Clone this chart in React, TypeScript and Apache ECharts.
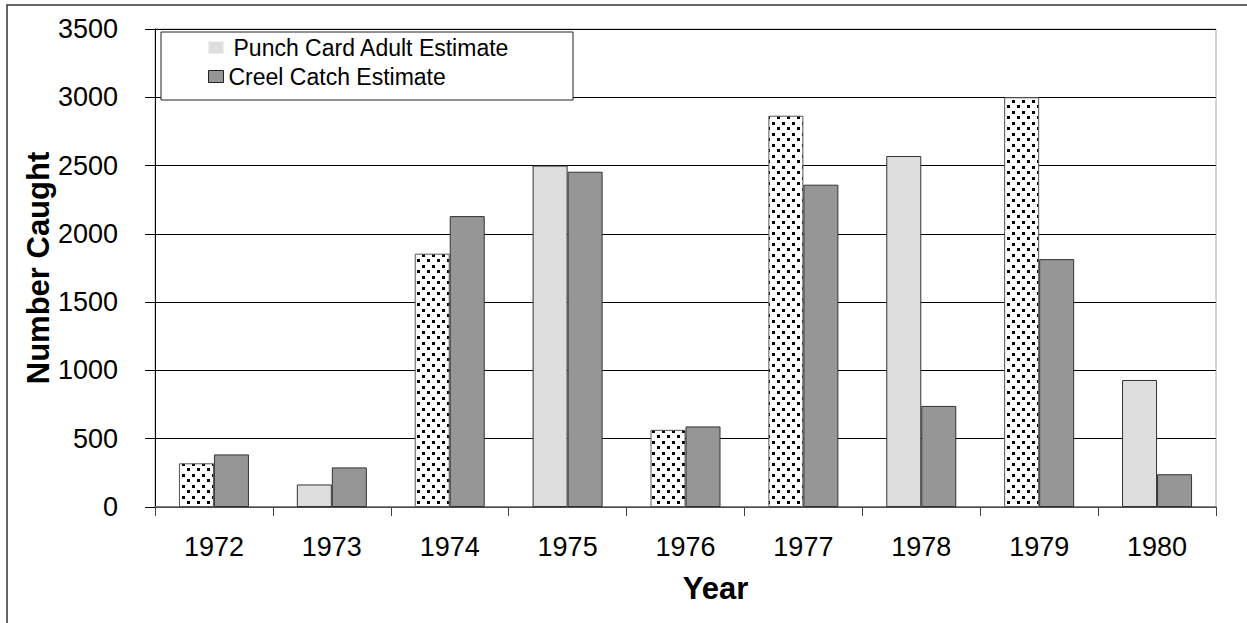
import React, { useEffect, useRef } from "react";
import * as echarts from "echarts";

const years = ["1972", "1973", "1974", "1975", "1976", "1977", "1978", "1979", "1980"];
const punchCard = [320, 165, 1855, 2500, 565, 2865, 2570, 3000, 930];
const creel = [385, 290, 2130, 2455, 590, 2360, 740, 1815, 240];
const dottedYears = ["1972", "1974", "1976", "1977", "1979"];
const yTicks = { min: 0, max: 3500, interval: 500 };
const seriesNames = ["Punch Card Adult Estimate", "Creel Catch Estimate"];
const yTitle = "Number Caught";
const xTitle = "Year";

const FONT = "'Liberation Sans', Arial, sans-serif";

function makeDots(): HTMLCanvasElement {
  const c = document.createElement("canvas");
  c.width = 10;
  c.height = 11;
  const ctx = c.getContext("2d")!;
  ctx.fillStyle = "#fff";
  ctx.fillRect(0, 0, 10, 11);
  ctx.fillStyle = "#000";
  ctx.fillRect(2, 1, 3, 3);
  ctx.fillRect(7, 6, 3, 3);
  return c;
}

export default function App() {
  const ref = useRef<HTMLDivElement>(null);
  useEffect(() => {
    if (!ref.current) return;
    const chart = echarts.init(ref.current, undefined, { renderer: "svg" });
    const dots = makeDots();
    const punchData = punchCard.map((v, i) =>
      dottedYears.includes(years[i])
        ? {
            value: v,
            itemStyle: { color: { image: dots, repeat: "repeat" }, borderColor: "#555" },
          }
        : { value: v }
    );
    chart.setOption({
      animation: false,
      backgroundColor: "#fff",
      textStyle: { fontFamily: FONT },
      grid: {
        left: 155,
        top: 29,
        right: 31,
        bottom: 116,
        show: true,
        borderColor: "#aaa",
        borderWidth: 1,
        backgroundColor: "transparent",
      },
      legend: {
        orient: "vertical",
        left: 203,
        top: 31,
        z: 20,
        itemWidth: 15,
        itemHeight: 12,
        itemGap: 6,
        icon: "rect",
        textStyle: { fontSize: 23, color: "#000", fontFamily: FONT },
        data: [
          {
            name: seriesNames[0],
            itemStyle: { color: "#dedede", borderWidth: 0 },
            textStyle: { fontSize: 23, color: "#000", fontFamily: FONT, padding: [0, 0, 0, 5] },
          },
          {
            name: seriesNames[1],
            itemStyle: { color: "#969696", borderColor: "#222", borderWidth: 1 },
            textStyle: { fontSize: 23, color: "#000", fontFamily: FONT, padding: [0, 0, 0, 0] },
          },
        ],
      },
      graphic: [
        {
          type: "rect",
          z: 10,
          shape: { x: 161, y: 32, width: 412, height: 68 },
          style: { fill: "#fff", stroke: "#222", lineWidth: 1 },
        },
        {
          type: "rect",
          z: 10,
          shape: { x: 7, y: 5, width: 1400, height: 800 },
          style: { fill: "none", stroke: "#333", lineWidth: 1.5 },
        },
        {
          type: "text",
          z: 10,
          x: 38,
          y: 268,
          rotation: Math.PI / 2,
          style: {
            text: yTitle,
            fontSize: 31,
            fontWeight: "bold",
            fontFamily: FONT,
            fill: "#000",
            align: "center",
            verticalAlign: "middle",
          },
        },
      ],
      xAxis: {
        type: "category",
        data: years,
        name: xTitle,
        nameLocation: "middle",
        nameGap: 66,
        nameTextStyle: {
          fontSize: 31,
          fontWeight: "bold",
          color: "#000",
          fontFamily: FONT,
          padding: [0, 0, 0, 60],
        },
        axisLine: { lineStyle: { color: "#666", width: 1.5 } },
        axisTick: { show: true, length: 9, lineStyle: { color: "#444" } },
        axisLabel: { fontSize: 27, color: "#000", margin: 26, fontFamily: FONT },
      },
      yAxis: {
        type: "value",
        min: yTicks.min,
        max: yTicks.max,
        interval: yTicks.interval,
        axisLine: { show: true, lineStyle: { color: "#000", width: 1 } },
        axisTick: { show: true, length: 10, lineStyle: { color: "#000" } },
        axisLabel: {
          fontSize: 27,
          color: "#000",
          margin: 37,
          fontFamily: FONT,
          formatter: (v: number) => String(v),
        },
        splitLine: { show: true, lineStyle: { color: "#000", width: 1 } },
      },
      series: [
        {
          name: seriesNames[0],
          type: "bar",
          data: punchData,
          barWidth: 35,
          barGap: "0%",
          itemStyle: { color: "#dedede", borderColor: "#333", borderWidth: 1 },
        },
        {
          name: seriesNames[1],
          type: "bar",
          data: creel,
          barWidth: 35,
          barGap: "0%",
          itemStyle: { color: "#969696", borderColor: "#333", borderWidth: 1 },
        },
      ],
    });
    return () => chart.dispose();
  }, []);
  return (
    <div
      ref={ref}
      style={{ position: "fixed", left: 0, top: 0, width: 1247, height: 623 }}
    />
  );
}
